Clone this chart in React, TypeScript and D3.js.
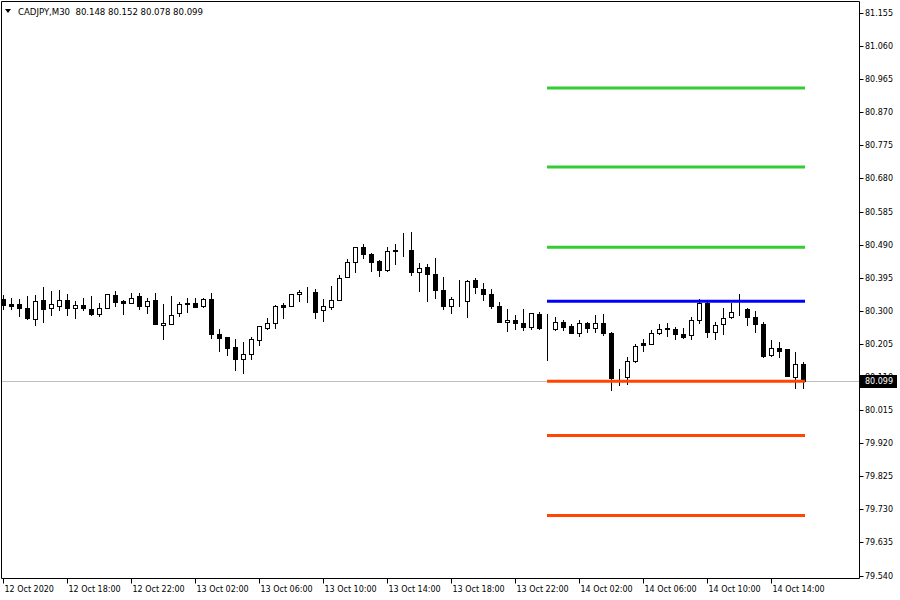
import React from "react";
import * as d3 from "d3";

const symbolTitle = "CADJPY,M30  80.148 80.152 80.078 80.099";

// OHLC per 30-min bar, starting 12 Oct 2020 14:00
const opens = [80.333,80.319,80.319,80.309,80.277,80.330,80.309,80.315,80.330,80.309,80.316,80.306,80.292,80.309,80.345,80.327,80.321,80.342,80.314,80.330,80.258,80.263,80.295,80.323,80.323,80.314,80.333,80.232,80.224,80.195,80.163,80.177,80.217,80.251,80.266,80.316,80.314,80.348,80.353,80.353,80.301,80.311,80.332,80.397,80.441,80.482,80.464,80.442,80.417,80.473,80.476,80.474,80.412,80.426,80.407,80.361,80.314,80.333,80.328,80.388,80.364,80.347,80.314,80.268,80.275,80.266,80.254,80.290,80.249,80.249,80.268,80.257,80.236,80.266,80.251,80.266,80.237,80.107,80.110,80.155,80.208,80.206,80.237,80.249,80.249,80.233,80.230,80.273,80.323,80.239,80.263,80.281,80.299,80.306,80.281,80.263,80.172,80.194,80.190,80.110,80.148];
const highs = [80.345,80.338,80.333,80.342,80.345,80.369,80.356,80.359,80.348,80.328,80.338,80.342,80.321,80.348,80.356,80.332,80.350,80.350,80.338,80.352,80.319,80.342,80.324,80.338,80.338,80.338,80.352,80.247,80.226,80.218,80.209,80.225,80.256,80.278,80.316,80.323,80.349,80.361,80.367,80.364,80.333,80.371,80.402,80.450,80.484,80.491,80.467,80.447,80.482,80.491,80.522,80.526,80.436,80.434,80.452,80.396,80.340,80.388,80.388,80.393,80.381,80.364,80.326,80.304,80.287,80.306,80.295,80.297,80.290,80.282,80.273,80.263,80.273,80.268,80.289,80.292,80.239,80.134,80.166,80.206,80.220,80.244,80.261,80.266,80.254,80.251,80.281,80.333,80.328,80.268,80.309,80.323,80.348,80.309,80.299,80.268,80.217,80.209,80.190,80.182,80.152];
const lows = [80.306,80.306,80.284,80.277,80.260,80.268,80.289,80.303,80.289,80.280,80.303,80.288,80.284,80.309,80.314,80.292,80.321,80.306,80.295,80.263,80.219,80.263,80.284,80.297,80.311,80.311,80.222,80.185,80.172,80.129,80.121,80.163,80.201,80.249,80.251,80.280,80.314,80.327,80.326,80.280,80.271,80.304,80.332,80.397,80.412,80.452,80.414,80.399,80.415,80.434,80.458,80.404,80.357,80.328,80.338,80.304,80.294,80.314,80.282,80.352,80.332,80.308,80.268,80.242,80.247,80.246,80.249,80.249,80.160,80.246,80.244,80.236,80.228,80.239,80.239,80.230,80.072,80.086,80.089,80.153,80.185,80.204,80.233,80.228,80.220,80.223,80.220,80.265,80.225,80.220,80.233,80.278,80.287,80.260,80.239,80.167,80.169,80.166,80.113,80.079,80.078];
const closes = [80.316,80.315,80.309,80.280,80.328,80.305,80.319,80.330,80.309,80.316,80.309,80.290,80.309,80.348,80.326,80.321,80.338,80.314,80.327,80.263,80.265,80.287,80.319,80.319,80.311,80.333,80.232,80.222,80.193,80.163,80.177,80.218,80.256,80.266,80.313,80.311,80.349,80.353,80.354,80.297,80.315,80.332,80.395,80.441,80.482,80.464,80.440,80.417,80.472,80.474,80.477,80.412,80.424,80.407,80.361,80.314,80.335,80.334,80.385,80.367,80.347,80.314,80.268,80.275,80.265,80.254,80.294,80.251,80.247,80.268,80.254,80.236,80.266,80.251,80.266,80.236,80.107,80.108,80.155,80.199,80.203,80.237,80.249,80.250,80.232,80.225,80.275,80.323,80.239,80.260,80.278,80.297,80.300,80.281,80.263,80.170,80.194,80.185,80.113,80.148,80.099];

const priceTicks = ["79.540","79.635","79.730","79.825","79.920","80.015","80.110","80.205","80.300","80.395","80.490","80.585","80.680","80.775","80.870","80.965","81.060","81.155"];
const timeLabels = ["12 Oct 2020","12 Oct 18:00","12 Oct 22:00","13 Oct 02:00","13 Oct 06:00","13 Oct 10:00","13 Oct 14:00","13 Oct 18:00","13 Oct 22:00","14 Oct 02:00","14 Oct 06:00","14 Oct 10:00","14 Oct 14:00"];
const timeLabelBars = [0,8,16,24,32,40,48,56,64,72,80,88,96];

const levelPrices = [80.940, 80.7125, 80.4826, 80.3274, 80.0975, 79.9423, 79.7124];
const levelColors = ["#32CD32","#32CD32","#32CD32","#0000FF","#FF4500","#FF4500","#FF4500"];
const levelStartBar = 68;
const currentPrice = 80.099;

export default function App() {
  const W = 900, H = 600;
  const left = 1.5, right = 859.5, top = 1.5, bottom = 578.5;
  const n = closes.length;
  const x = d3.scaleLinear().domain([0, n - 1]).range([3, 803]);
  const y = d3.scaleLinear().domain([79.54, 81.155]).range([575.5, 13]);
  const font = "DejaVu Sans, Verdana, sans-serif";
  const yr = (p: number) => Math.round(y(p));
  const lastX = x(n - 1) + 2;
  const tagY = yr(currentPrice);

  return (
    <div style={{ position: "absolute", left: 0, top: 0 }}>
      <svg width={W} height={H} style={{ display: "block", background: "#fff" }}>
        <defs>
          <clipPath id="plot">
            <rect x={2} y={2} width={857} height={576} />
          </clipPath>
          <clipPath id="aboveTag">
            <rect x={860} y={0} width={40} height={tagY - 6} />
          </clipPath>
        </defs>
        <rect x={0} y={0} width={W} height={H} fill="#fff" />
        {/* current price line */}
        <line x1={left} x2={right} y1={tagY + 0.5} y2={tagY + 0.5} stroke="#C0C0C0" strokeWidth={1} />
        <g clipPath="url(#plot)">
          {closes.map((c, i) => {
            const o = opens[i];
            const cx = Math.round(x(i));
            const up = c > o;
            const yt = yr(Math.max(o, c));
            const yb = yr(Math.min(o, c));
            const bh = Math.max(0, yb - yt);
            return (
              <g key={i}>
                <line x1={cx + 0.5} x2={cx + 0.5} y1={yr(highs[i])} y2={yr(lows[i]) + 1} stroke="#000" strokeWidth={1} />
                <rect x={cx - 1.5} y={yt + 0.5} width={4} height={bh} fill={up ? "#fff" : "#000"} stroke="#000" strokeWidth={1} />
              </g>
            );
          })}
          {levelPrices.map((p, i) => (
            <line key={i} x1={x(levelStartBar)} x2={lastX} y1={y(p)} y2={y(p)} stroke={levelColors[i]} strokeWidth={3} />
          ))}
        </g>
        {/* frame */}
        <path d={`M${left},${top}H${right}V${bottom}H${left}Z`} fill="none" stroke="#000" strokeWidth={1} />
        {/* price axis */}
        {priceTicks.map((t) => {
          const py = Math.round(y(+t)) + 0.5;
          const hidden = Math.abs(py - tagY) < 8;
          return (
            <g key={t}>
              <line x1={right} x2={right + 4} y1={py} y2={py} stroke="#000" />
              <text x={865} y={py} dy="0.35em" fontSize={8} fontFamily={font} fill="#000" clipPath={hidden ? "url(#aboveTag)" : undefined}>{t}</text>
            </g>
          );
        })}
        {/* current price tag */}
        <rect x={860} y={tagY - 6} width={37} height={13} fill="#000" />
        <text x={865} y={tagY + 0.5} dy="0.35em" fontSize={8} fontFamily={font} fill="#fff">{currentPrice.toFixed(3)}</text>
        {/* time axis */}
        {timeLabels.map((t, i) => {
          const tx = Math.round(x(timeLabelBars[i])) + 0.5;
          return (
            <g key={t}>
              <line x1={tx} x2={tx} y1={bottom} y2={bottom + 5} stroke="#000" />
              <text x={tx + 1} y={592} fontSize={8} fontFamily={font} fill="#000">{t}</text>
            </g>
          );
        })}
        {/* title */}
        <path d="M5,9 L11,9 L8,13 Z" fill="#000" />
        <text x={18} y={15} fontSize={8.6} fontFamily={font} fill="#000" textLength={185} lengthAdjust="spacing">{symbolTitle.replace("  ", "\u00a0\u00a0")}</text>
      </svg>
    </div>
  );
}
